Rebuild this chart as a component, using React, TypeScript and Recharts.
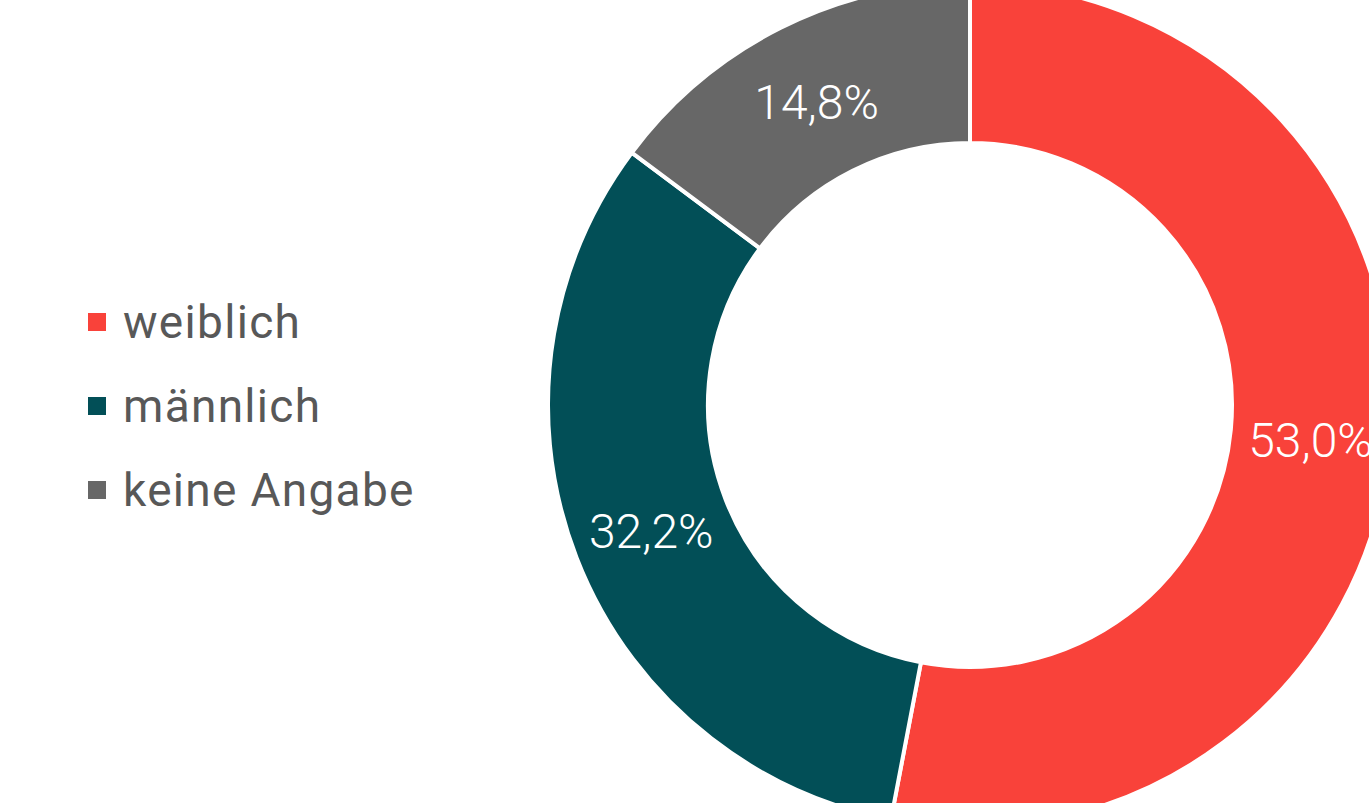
import { PieChart, Pie, Cell } from "recharts"

const categories = ["weiblich", "männlich", "keine Angabe"]
const shares = [53.0, 32.2, 14.8]
const colors = ["#F9423A", "#024F57", "#676767"]

const data = categories.map((name, i) => ({ name, value: shares[i] }))

const RAD = Math.PI / 180

function renderLabel(props: any) {
  const { cx, cy, midAngle, innerRadius, outerRadius, value } = props
  const r = (innerRadius + outerRadius) / 2
  const x = cx + r * Math.cos(-midAngle * RAD)
  const y = cy + r * Math.sin(-midAngle * RAD) + 3
  return (
    <text
      x={x}
      y={y}
      fill="#ffffff"
      textAnchor="middle"
      dominantBaseline="central"
      fontFamily="Roboto, sans-serif"
      fontWeight={300}
      fontSize={48}
    >
      {value.toFixed(1).replace(".", ",") + "%"}
    </text>
  )
}

function SideLegend() {
  return (
    <div
      style={{
        position: "absolute",
        left: 88,
        top: 280,
        fontFamily: "Roboto, sans-serif",
        fontWeight: 400,
        fontSize: 46,
        color: "#585858",
      }}
    >
      {categories.map((name, i) => (
        <div key={name} style={{ display: "flex", alignItems: "center", height: 84 }}>
          <span style={{ display: "inline-block", width: 18, height: 18, background: colors[i], marginRight: 17 }} />
          <span style={{ letterSpacing: 1.3 }}>{name}</span>
        </div>
      ))}
    </div>
  )
}

export default function App() {
  return (
    <div style={{ position: "absolute", left: 0, top: 0, width: 1369, height: 803, background: "#fff", overflow: "hidden" }}>
      <PieChart width={1369} height={803} margin={{ top: 0, right: 0, bottom: 0, left: 0 }}>
        <Pie
          data={data}
          dataKey="value"
          nameKey="name"
          cx={970}
          cy={405}
          innerRadius={262}
          outerRadius={422}
          startAngle={90}
          endAngle={-270}
          stroke="#ffffff"
          strokeWidth={4}
          label={renderLabel}
          labelLine={false}
          isAnimationActive={false}
        >
          {data.map((d, i) => (
            <Cell key={d.name} fill={colors[i]} />
          ))}
        </Pie>
      </PieChart>
      <SideLegend />
    </div>
  )
}
